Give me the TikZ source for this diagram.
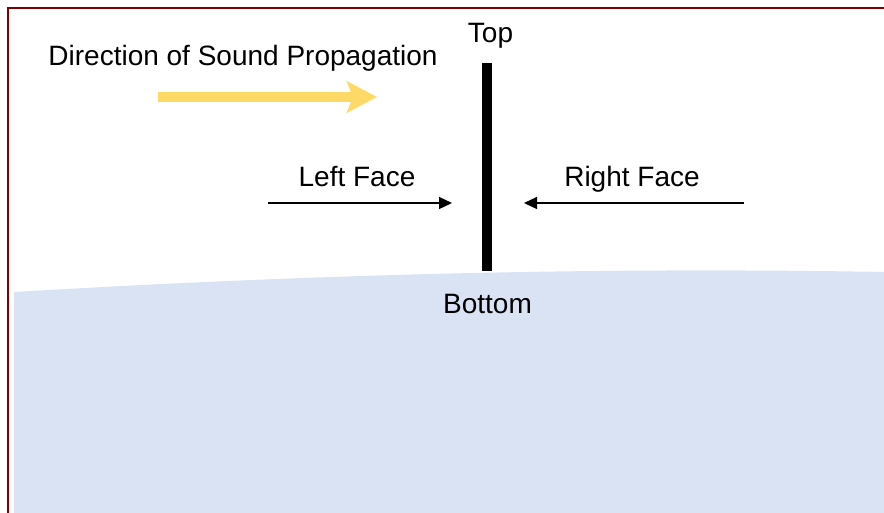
\documentclass[tikz,border=0pt]{standalone}
\usepackage{fontspec}
\setmainfont{Liberation Sans}
\usetikzlibrary{arrows.meta}
\definecolor{framered}{RGB}{128,0,0}
\definecolor{waterblue}{RGB}{218,227,243}
\definecolor{soundyellow}{RGB}{255,217,102}

\begin{document}
\begin{tikzpicture}[x=1pt,y=-1pt,
	txt/.style={ anchor=base, inner sep=0pt, font=\fontsize{28}{33}\selectfont },
	face/.style={ line width=1.3pt, -{Triangle[length=13pt,width=12pt]} },
	sound/.style={ soundyellow, line width=10pt, -{Stealth[length=30pt,width=31pt,inset=6pt]} },
	wall/.style={ line width=10pt },
	frame/.style={ framered, line width=2.6pt }
]
\useasboundingbox (0,0) rectangle (884,512);

\fill[waterblue] (14,292) .. controls (250,278) and (550,266) .. (884,272) to (884,520) to (14,520) to cycle;
\draw[frame] (8,520) to (8,8) to (890,8);

\coordinate (bartop) at (487,63);
\coordinate (barbot) at (487,271);
\draw[wall] (bartop) to (barbot);

\node at (490.5,42) (top) [txt] {Top};
\node at (487.5,313) (bottom) [txt] {Bottom};

\node at (243,65) (dir) [txt] {Direction of Sound Propagation};
\coordinate (s1) at (158,97);
\coordinate (s2) at (377,97);
\draw[sound] (s1) to (s2);

\node at (357,186) (left) [txt] {Left Face};
\coordinate (l1) at (268,203);
\coordinate (l2) at (452,203);
\draw[face] (l1) to (l2);

\node at (632,186) (right) [txt] {Right Face};
\coordinate (r1) at (744,203);
\coordinate (r2) at (524,203);
\draw[face] (r1) to (r2);

\end{tikzpicture}
\end{document}
